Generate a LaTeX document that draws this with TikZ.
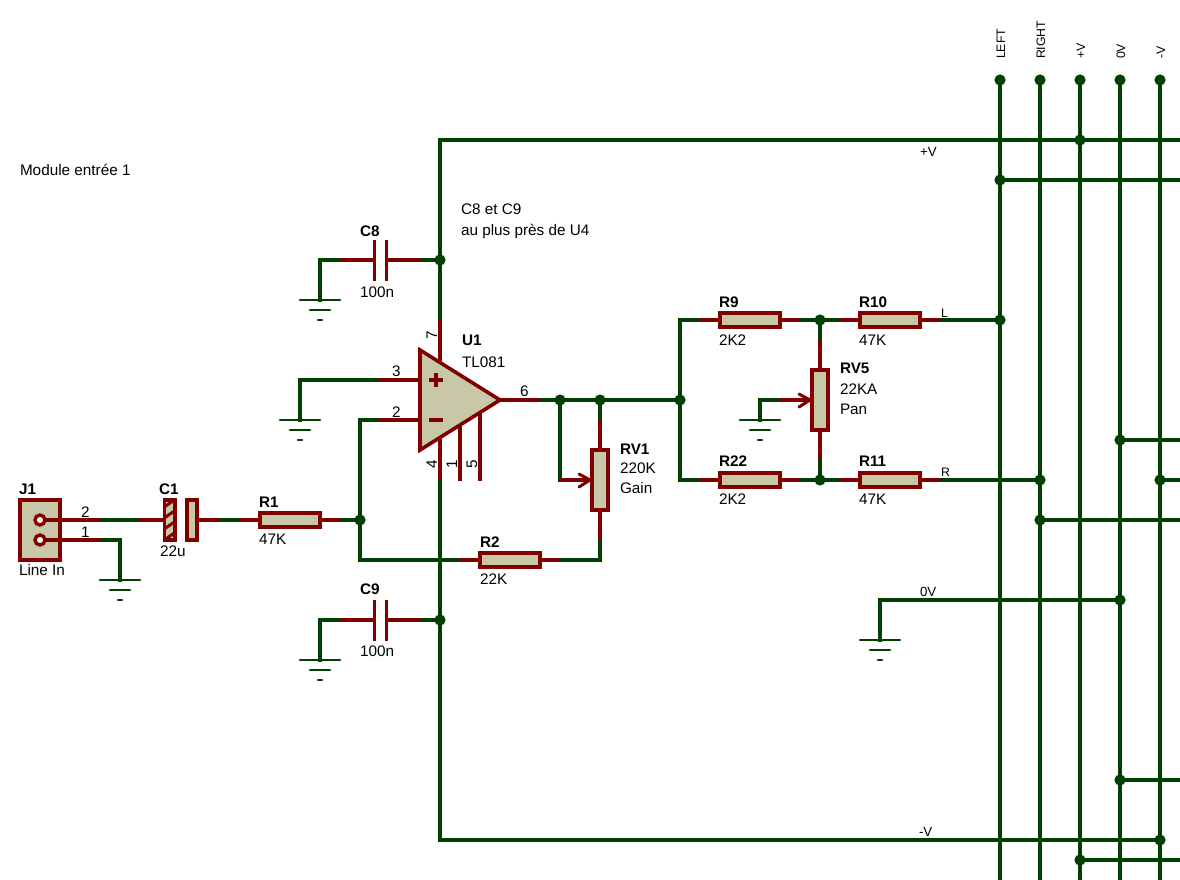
\documentclass[tikz,border=0pt]{standalone}
\usepackage{fontspec}
\setmainfont{Liberation Sans}
\definecolor{wg}{HTML}{004000}
\definecolor{rd}{HTML}{800000}
\definecolor{bd}{HTML}{C8C8A8}
\tikzset{
  x=1pt,y=-1pt,
  gwire/.style={draw=wg,line width=3.2pt,line cap=rect,line join=miter},
  rwire/.style={draw=rd,line width=3.2pt,line cap=butt},
  res/.style={rectangle,draw=rd,fill=bd,line width=3.6pt,minimum width=60,minimum height=14,inner sep=0,outer sep=0},
  pot/.style={rectangle,draw=rd,fill=bd,line width=3.6pt,minimum width=16,minimum height=60,inner sep=0,outer sep=0},
  jdot/.style={circle,fill=wg,draw=none,minimum size=11.2,inner sep=0,outer sep=0},
  txt/.style={inner sep=0,outer sep=0,anchor=base west,text=black,font=\fontsize{15.3}{17}\selectfont},
  ref/.style={txt,font=\fontsize{15.3}{17}\selectfont\bfseries},
  small/.style={txt,font=\fontsize{12.3}{14}\selectfont},
  netl/.style={txt,font=\fontsize{13.3}{15}\selectfont},
  upr/.style={small,rotate=90},
  uprp/.style={txt,rotate=90},
  arr/.style={draw=rd,line width=3pt,line cap=round,line join=round},
  plate/.style={draw=rd,line width=3.6pt},
  ground/.pic={
    \draw[wg,line width=2.8pt,line cap=round] (-20,0) -- (20,0);
    \draw[wg,line width=2.8pt,line cap=round] (-10,10) -- (10,10);
    \draw[wg,line width=2.8pt,line cap=round] (-2,20) -- (2,20);
  }
}
\begin{document}
\begin{tikzpicture}
\useasboundingbox (0,0) rectangle (1180,880);
\fill[white] (0,0) rectangle (1180,880);

% ---- junctions
\foreach \n/\x/\y in {
 jA/440/260, jB/440/620, jC/360/520, jD/560/400, jE/600/400, jF/680/400,
 jG/820/320, jH/820/480, jI/1000/320, jJ/1040/480, jK/1120/600,
 jL/1080/140, jM/1000/180, jN/1120/440, jO/1160/480, jP/1040/520,
 jQ/1120/780, jR/1160/840, jS/1080/860,
 tLEFT/1000/80, tRIGHT/1040/80, tPV/1080/80, tZV/1120/80, tMV/1160/80}
 {\node[jdot] (\n) at (\x,\y) {};}

% ---- bus bottoms and right ends
\foreach \n/\x/\y in {
 bLEFT/1000/880, bRIGHT/1040/880, bPV/1080/880, bZV/1120/880, bMV/1160/880,
 rPV/1180/140, rM/1180/180, rN/1180/440, rO/1180/480, rP/1180/520,
 rQ/1180/780, rS/1180/860}
 {\coordinate (\n) at (\x,\y);}

% ---- components
\node[rectangle,draw=rd,fill=bd,line width=3.6pt,minimum width=40,minimum height=60,inner sep=0,outer sep=0] (J1) at (40,530) {};
\node[circle,draw=rd,fill=white,line width=3.4pt,minimum size=10,inner sep=0,outer sep=0] (J1b) at (40,520) {};
\node[circle,draw=rd,fill=white,line width=3.4pt,minimum size=10,inner sep=0,outer sep=0] (J1a) at (40,540) {};
\node[rectangle,draw=rd,fill=bd,line width=3.6pt,minimum width=10.5,minimum height=40,inner sep=0,outer sep=0] (C1a) at (169.7,520) {};
\begin{scope}
  \clip (C1a.north west) rectangle (C1a.south east);
  \foreach \k in {496,507,518,529,540}
    \draw[rd,line width=3pt] (160,\k+14) -- (180,\k);
\end{scope}
\draw[plate] (C1a.north west) rectangle (C1a.south east);
\node[rectangle,draw=rd,fill=bd,line width=3.6pt,minimum width=9.5,minimum height=40,inner sep=0,outer sep=0] (C1b) at (192,520) {};
\node[res] (R1) at (290,520) {};
\node[res] (R2) at (510,560) {};
\node[res] (R9) at (750,320) {};
\node[res] (R10) at (890,320) {};
\node[res] (R22) at (750,480) {};
\node[res] (R11) at (890,480) {};
\node[pot] (RV1) at (600,480) {};
\node[pot] (RV5) at (820,400) {};

% capacitors C8, C9
\coordinate (C8t1) at (374.5,240); \coordinate (C8b1) at (374.5,281);
\coordinate (C8t2) at (386.5,240); \coordinate (C8b2) at (386.5,281);
\coordinate (C9t1) at (374.5,600); \coordinate (C9b1) at (374.5,641);
\coordinate (C9t2) at (386.5,600); \coordinate (C9b2) at (386.5,641);
\coordinate (C8l) at (374.5,260); \coordinate (C8r) at (386.5,260);
\coordinate (C9l) at (374.5,620); \coordinate (C9r) at (386.5,620);
\draw[plate] (C8t1) -- (C8b1); \draw[plate] (C8t2) -- (C8b2);
\draw[plate] (C9t1) -- (C9b1); \draw[plate] (C9t2) -- (C9b2);

% op-amp
\coordinate (Ua) at (420,350); \coordinate (Ub) at (420,450); \coordinate (Uc) at (500,400);
\draw[draw=rd,fill=bd,line width=3.6pt,line join=miter] (Ua) -- (Ub) -- (Uc) -- cycle;
\draw[rd,line width=3.4pt] (429,380) -- (443,380) (436,373) -- (436,387);
\draw[rd,line width=3.4pt] (429,420) -- (443,420);
\coordinate (Up3) at (420,380); \coordinate (Up2) at (420,420);
\coordinate (Up7) at (440,361); \coordinate (Up4) at (440,439);
\coordinate (Up1) at (460,425); \coordinate (Up5) at (480,413);
\coordinate (Ue1) at (460,481); \coordinate (Ue5) at (480,481);

% ---- wire break points (red/green transitions)
\foreach \n/\x/\y in {
 a1/100/520, a2/140/520, a3/100/540, a4/120/540, a5/120/580,
 b1/220/520, b2/240/520, c1/340/520, d1/380/420, d2/360/420, d3/360/560,
 e1/460/560, e2/540/560, e3/560/560, e4/600/560, e5/600/540,
 f1/380/380, f2/300/380, f3/300/420,
 g1/440/320, g2/440/140, g3/440/480, g4/440/840,
 h1/340/260, h2/320/260, h3/320/300, h4/420/260,
 i1/340/620, i2/320/620, i3/320/660, i4/420/620,
 k1/540/400, k2/600/420, k3/560/480, k4/580/480,
 l1/680/320, l2/680/480, l3/700/320, l4/700/480,
 m1/800/320, m2/840/320, m3/800/480, m4/840/480,
 n1/940/320, n2/940/480,
 o1/820/340, o2/820/460,
 p1/780/400, p2/760/400, p3/760/420,
 q1/880/600, q2/880/640}
 {\coordinate (\n) at (\x,\y);}

% ---- green wires
\foreach \s/\t in {a1/a2,a3/a4,a4/a5,b1/b2,c1/jC,d1/d2,d2/d3,jC/d2,d3/e1,e3/e4,e4/e5,
 f1/f2,f2/f3,g1/g2,g3/g4,h1/h2,h2/h3,h4/jA,i1/i2,i2/i3,i4/jB,
 k1/jF,jE/k2,jD/k3,jF/l1,jF/l2,l1/l3,l2/l4,
 m1/m2,m3/m4,n1/jI,n2/jJ,jG/o1,jH/o2,p1/p2,p2/p3,q1/q2,q1/jK,
 g2/rPV,g4/jR,jM/rM,jN/rN,jO/rO,jP/rP,jQ/rQ,jS/rS,
 tLEFT/bLEFT,tRIGHT/bRIGHT,tPV/bPV,tZV/bZV,tMV/bMV}
 {\draw[gwire] (\s) -- (\t);}

% ---- red pin stubs
\foreach \s/\t in {J1b/a1,J1a/a3,a2/C1a,C1b/b1,b2/R1,R1/c1,d1/Up2,e1/R2,R2/e3,e5/RV1,
 f1/Up3,g1/Up7,Up4/g3,Up1/Ue1,Up5/Ue5,h1/C8l,C8r/h4,i1/C9l,C9r/i4,
 Uc/k1,k2/RV1,k3/RV1.west,l3/R9,R9/m1,m2/R10,R10/n1,l4/R22,R22/m3,m4/R11,R11/n2,
 o1/RV5,RV5/o2,p1/RV5.west}
 {\draw[rwire] (\s) -- (\t);}

% wiper arrowheads
\draw[arr] (579,474) -- (590,480) -- (579,487);
\draw[arr] (799,394) -- (810,400) -- (799,407);

% grounds
\pic at (a5) {ground};
\pic at (h3) {ground};
\pic at (i3) {ground};
\pic at (f3) {ground};
\pic at (p3) {ground};
\pic at (q2) {ground};

% ---- labels
\node[txt] (tModule) at (20,175) {Module entrée 1};
\node[txt] (tN1) at (461,214) {C8 et C9};
\node[txt] (tN2) at (461,235) {au plus près de U4};
\node[ref] (lJ1) at (19,494) {J1};
\node[txt] (vJ1) at (19,575) {Line In};
\node[txt] (p2a) at (81,517) {2};
\node[txt] (p1a) at (81,537) {1};
\node[ref] (lC1) at (159,494) {C1};
\node[txt] (vC1) at (160,556) {22u};
\node[ref] (lR1) at (259,507) {R1};
\node[txt] (vR1) at (259,544) {47K};
\node[ref] (lC8) at (360,236) {C8};
\node[txt] (vC8) at (360,297) {100n};
\node[ref] (lC9) at (360,594) {C9};
\node[txt] (vC9) at (360,656) {100n};
\node[ref] (lU1) at (462,345) {U1};
\node[txt] (vU1) at (462,367) {TL081};
\node[txt] (p3) at (392,376) {3};
\node[txt] (p2) at (392,417) {2};
\node[txt] (p6) at (520,396) {6};
\node[uprp] (p7) at (437,339) {7};
\node[uprp] (p4) at (437,468) {4};
\node[uprp] (p1) at (457,468) {1};
\node[uprp] (p5) at (477,468) {5};
\node[ref] (lRV1) at (620,454) {RV1};
\node[txt] (vRV1) at (620,473) {220K};
\node[txt] (wRV1) at (620,493) {Gain};
\node[ref] (lR2) at (480,547) {R2};
\node[txt] (vR2) at (480,584) {22K};
\node[ref] (lR9) at (719,307) {R9};
\node[txt] (vR9) at (719,345) {2K2};
\node[ref] (lR10) at (859,307) {R10};
\node[txt] (vR10) at (859,345) {47K};
\node[ref] (lR22) at (719,466) {R22};
\node[txt] (vR22) at (719,504) {2K2};
\node[ref] (lR11) at (859,466) {R11};
\node[txt] (vR11) at (859,504) {47K};
\node[ref] (lRV5) at (840,373) {RV5};
\node[txt] (vRV5) at (840,394) {22KA};
\node[txt] (wRV5) at (840,414) {Pan};
\node[small] (nL) at (941,317) {L};
\node[small] (nR) at (941,476) {R};
\node[netl] (nP) at (920,156) {+V};
\node[netl] (nM) at (919,836) {-V};
\node[netl] (nZ) at (920,596) {0V};
\node[upr] (uL) at (1005,59) {LEFT};
\node[upr] (uR) at (1045,59) {RIGHT};
\node[upr] (uP) at (1085,59) {+V};
\node[upr] (uZ) at (1125,59) {0V};
\node[upr] (uM) at (1165,59) {-V};
\end{tikzpicture}
\end{document}
